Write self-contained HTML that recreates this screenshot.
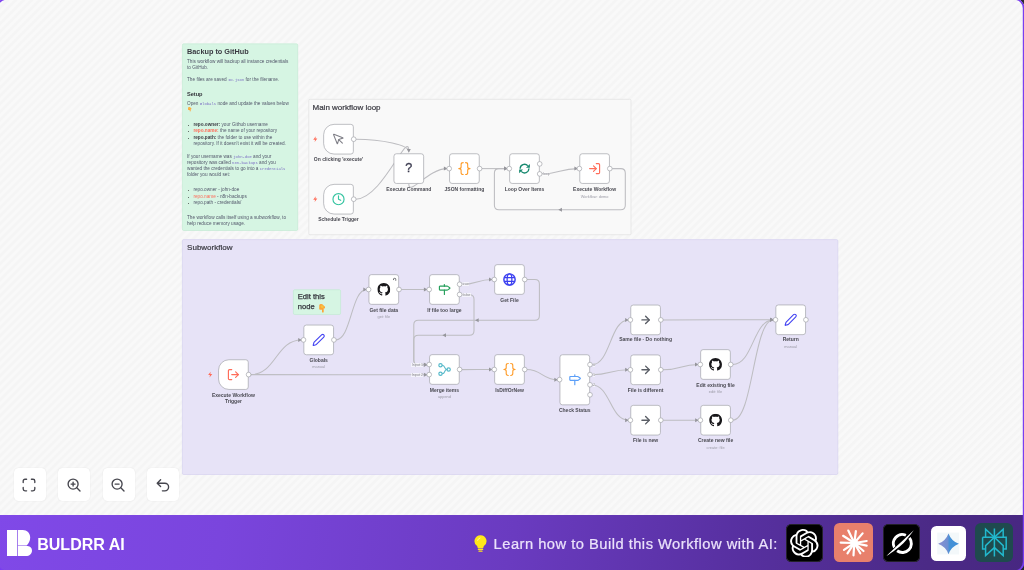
<!DOCTYPE html>
<html lang="en"><head><meta charset="utf-8"><title>Backup to GitHub - BULDRR AI</title>
<style>
*{box-sizing:border-box}
html,body{margin:0;padding:0}
body{width:1024px;height:570px;overflow:hidden;background:#2a2a2e;font-family:"Liberation Sans",sans-serif;position:relative}
.frame{position:absolute;left:0;top:0;width:1024px;height:570px;overflow:hidden;background:#f7f7f7}
.canvas{position:absolute;left:-4.1px;top:0;width:1034px;height:516px;
 background:repeating-linear-gradient(-45deg,#f5f5f5 0,#f5f5f5 1.9px,#f9f9f9 2.9px,#f9f9f9 4.7px,#f5f5f5 5.66px)}
.abs{position:absolute;left:0;top:0;width:1024px;height:570px;filter:blur(.35px)}
.fr{position:absolute;left:0;top:0;pointer-events:none}
.h3{position:absolute;font-size:8px;color:#3c3c44;-webkit-text-stroke:.22px #3c3c44;white-space:nowrap;line-height:9px}
.h3e{position:absolute;font-size:7.6px;color:#34343c;-webkit-text-stroke:.25px #34343c;white-space:nowrap;line-height:10.6px}
.md{position:absolute;left:0;top:0;font-size:4.7px;line-height:6px;color:#52566a}
.md .b{position:absolute;white-space:nowrap}
.md .h2{font-size:7.3px;line-height:9px;color:#3a3a42;font-weight:bold}
.md .h3s{font-size:5.6px;line-height:7px;color:#33333a;font-weight:bold}
.md .dot{width:1.3px;height:1.3px;border-radius:50%;background:#444}
.md b{color:#3c3c44}
.md code{font-family:"Liberation Mono",monospace;font-size:3.9px;line-height:1px;color:#7c6ec4}
.md .lk{color:#ff6d5a}
.txic{position:absolute;width:20px;text-align:center;font-size:13.5px;line-height:14px;font-weight:normal}
.nx{position:absolute;width:0;height:0}
.txic.q{color:#3b3b4f;font-size:12.6px;font-weight:normal;-webkit-text-stroke:.3px #3b3b4f}
.lab{position:absolute;text-align:center;font-size:5px;line-height:6px;color:#4a4a52;font-weight:bold}
.lab.sub{font-weight:normal;font-size:3.9px;line-height:5px;color:#9b9ba6}
.pl{position:absolute;font-size:3.7px;line-height:4px;color:#8b8b93;white-space:nowrap;background:rgba(255,255,255,.6);font-style:normal;padding:0 .3px}
.edges{position:absolute;left:0;top:0}
.edges .e path{fill:none;stroke:#bdbdc1;stroke-width:1.05}
.edges .a path{fill:#96969c;stroke:none}
.zb{position:absolute;top:468px;width:32px;height:33px;background:#fff;box-shadow:0 0 1.2px rgba(0,0,0,.13);border-radius:4.5px}
.zb svg{position:absolute;left:7.4px;top:9.2px;fill:none;stroke:#46464e;stroke-width:1.35;stroke-linecap:round;stroke-linejoin:round}
.bar{position:absolute;left:-6px;top:514.6px;width:1036px;height:62px;background:linear-gradient(100deg,#8049e8 0%,#7a45dd 22%,#6a3bc0 50%,#5730a0 72%,#4b2a86 90%,#472781 100%)}
.logo{position:absolute;left:13px;top:15.4px}
.brand{position:absolute;left:43.2px;top:20.2px;font-size:16.05px;line-height:18px;font-weight:bold;color:#fff;white-space:nowrap}
.bulb{position:absolute;left:480.2px;top:20.2px}
.learn{position:absolute;left:499.6px;top:20.5px;font-size:14.7px;line-height:18px;color:#ebe2fb;white-space:nowrap;letter-spacing:.49px;-webkit-text-stroke:.22px #ebe2fb}
.ai{position:absolute;border-radius:5.5px;overflow:hidden;margin-top:-514.6px;margin-left:6px}
.ai svg{position:absolute}
</style></head>
<body>
<div class="frame">
<div class="canvas"></div>
<div class="abs">
<svg class="edges" width="1024" height="570" viewBox="0 0 1024 570"><rect x="182.40" y="43.80" width="115.30" height="186.70" rx="1.3" fill="#d6f5e3" stroke="#bfe9d0" stroke-width=".6"/><rect x="308.80" y="99.30" width="322.20" height="135.40" rx="1.3" fill="#f9f9f9" stroke="#dcdcdc" stroke-width=".6"/><rect x="182.40" y="239.60" width="655.40" height="234.90" rx="1.3" fill="#e7e3f7" stroke="#d2ccee" stroke-width=".6"/><rect x="293.40" y="289.70" width="47.20" height="24.80" rx="1.3" fill="#d6f5e3" stroke="#bfe9d0" stroke-width=".6"/></svg>
<div class="md"><div class="b h2" style="left:187.00px;top:47.30px;">Backup to GitHub</div>
<div class="b t" style="left:187.00px;top:59.37px;">This workflow will backup all instance credentials</div>
<div class="b t" style="left:187.00px;top:65.37px;">to GitHub.</div>
<div class="b t" style="left:187.00px;top:77.37px;">The files are saved <code>ID.json</code> for the filename.</div>
<div class="b h3s" style="left:187.00px;top:90.70px;">Setup</div>
<div class="b t" style="left:187.00px;top:101.37px;">Open <code>Globals</code> node and update the values below</div>
<svg style="position:absolute;left:187.90px;top:107.00px" viewBox="0 0 7 9" width="3.7" height="4.6" preserveAspectRatio="none"><path d="M0.3 1.4 Q0.5 0.2 2 0.1 Q3.6 0 4.6 1.2 L6.5 3.1 Q7 3.9 6.2 4.4 Q5.6 4.7 5 4.4 V8 Q5 8.9 4.1 8.9 Q3.2 8.9 3.2 8 V6 L0.9 5.9 Q0.2 5.8 0.2 5 Z" fill="#ffa436"/><ellipse cx="3.3" cy="2.7" rx="1.7" ry="1.3" transform="rotate(35 3.3 2.7)" fill="#f3c540"/></svg>
<div class="b t" style="left:193.40px;top:122.37px;"><b>repo.owner:</b> your Github username</div><div class="b dot" style="left:188.10px;top:124.80px;"></div>
<div class="b t" style="left:193.40px;top:128.37px;"><b class="lk">repo.name:</b> the name of your repository</div><div class="b dot" style="left:188.10px;top:130.80px;"></div>
<div class="b t" style="left:193.40px;top:135.37px;"><b>repo.path:</b> the folder to use within the</div><div class="b dot" style="left:188.10px;top:137.80px;"></div>
<div class="b t" style="left:193.40px;top:141.37px;">repository. If it doesn't exist it will be created.</div>
<div class="b t" style="left:187.00px;top:154.37px;">If your username was <code>john-doe</code> and your</div>
<div class="b t" style="left:187.00px;top:160.37px;">repository was called <code>n8n-backups</code> and you</div>
<div class="b t" style="left:187.00px;top:166.37px;">wanted the credentials to go into a <code>credentials</code></div>
<div class="b t" style="left:187.00px;top:172.37px;">folder you would set:</div>
<div class="b t" style="left:193.40px;top:187.37px;">repo.owner - john-doe</div><div class="b dot" style="left:188.10px;top:189.80px;"></div>
<div class="b t" style="left:193.40px;top:194.37px;"><span class="lk">repo.name</span> - n8n-backups</div><div class="b dot" style="left:188.10px;top:196.80px;"></div>
<div class="b t" style="left:193.40px;top:200.37px;">repo.path - credentials/</div><div class="b dot" style="left:188.10px;top:202.80px;"></div>
<div class="b t" style="left:187.00px;top:215.37px;">The workflow calls itself using a subworkflow, to</div>
<div class="b t" style="left:187.00px;top:221.37px;">help reduce memory usage.</div></div>
<div class="h3" style="left:312.5px;top:102.6px">Main workflow loop</div>
<div class="h3" style="left:187.1px;top:243px">Subworkflow</div>
<div class="h3e" style="left:297.8px;top:292.17px">Edit this</div><div class="h3e" style="left:297.8px;top:302.15px">node</div><svg style="position:absolute;left:318.80px;top:304.00px" viewBox="0 0 7 9" width="6.6" height="8.7" preserveAspectRatio="none"><path d="M0.3 1.4 Q0.5 0.2 2 0.1 Q3.6 0 4.6 1.2 L6.5 3.1 Q7 3.9 6.2 4.4 Q5.6 4.7 5 4.4 V8 Q5 8.9 4.1 8.9 Q3.2 8.9 3.2 8 V6 L0.9 5.9 Q0.2 5.8 0.2 5 Z" fill="#ffa436"/><ellipse cx="3.3" cy="2.7" rx="1.7" ry="1.3" transform="rotate(35 3.3 2.7)" fill="#f3c540"/></svg>
<svg class="edges" width="1024" height="570" viewBox="0 0 1024 570"><g class="e">
<path d="M355.90 139.20 C382.35 139.20 408.80 145.25 408.80 151.30"/>
<path d="M355.70 199.20 C382.25 199.20 408.80 127.61 408.80 151.30"/>
<path d="M408.80 183.80 C408.80 197.15 428.00 168.60 447.20 168.60"/>
<path d="M481.60 168.60 C494.45 168.60 494.45 168.60 507.30 168.60"/>
<path d="M541.70 173.80 C559.70 173.80 559.70 168.60 577.70 168.60"/>
<path d="M612.10 168.60 H620.80 Q625.30 168.60 625.30 173.10 V205.20 Q625.30 209.70 620.80 209.70 H498.90 Q494.40 209.70 494.40 205.20 V173.10 Q494.40 168.60 498.90 168.60 H507.30"/>
<path d="M250.60 374.60 C276.05 374.60 276.05 339.90 301.50 339.90"/>
<path d="M250.60 374.60 C338.90 374.60 338.90 374.80 427.20 374.80"/>
<path d="M335.90 339.90 C351.25 339.90 351.25 289.50 366.60 289.50"/>
<path d="M401.00 289.50 C414.10 289.50 414.10 289.50 427.20 289.50"/>
<path d="M461.60 284.50 C476.95 284.50 476.95 279.50 492.30 279.50"/>
<path d="M461.60 369.60 C476.95 369.60 476.95 369.50 492.30 369.50"/>
<path d="M526.70 369.50 C542.15 369.50 542.15 379.80 557.60 379.80"/>
<path d="M592.00 364.80 C610.20 364.80 610.20 319.90 628.40 319.90"/>
<path d="M592.00 374.80 C610.20 374.80 610.20 369.80 628.40 369.80"/>
<path d="M592.00 385.00 C610.20 385.00 610.20 420.20 628.40 420.20"/>
<path d="M662.80 319.90 C718.15 319.90 718.15 319.80 773.50 319.80"/>
<path d="M662.80 369.80 C680.55 369.80 680.55 364.50 698.30 364.50"/>
<path d="M662.80 420.20 C680.60 420.20 680.60 420.20 698.40 420.20"/>
<path d="M732.70 364.50 C753.10 364.50 753.10 319.80 773.50 319.80"/>
<path d="M732.80 420.20 C753.15 420.20 753.15 319.80 773.50 319.80"/>
<path d="M526.70 279.50 H534.90 Q539.40 279.50 539.40 284.00 V315.80 Q539.40 320.30 534.90 320.30 H418.30 Q413.80 320.30 413.80 324.80 V360.20 Q413.80 364.70 418.30 364.70 H427.20"/>
<path d="M461.60 294.70 H469.50 Q474.00 294.70 474.00 299.20 V330.80 Q474.00 335.30 469.50 335.30 H418.30 Q413.80 335.30 413.80 339.80 V360.20 Q413.80 364.70 418.30 364.70 H427.20"/>
</g><g class="a">
<path d="M0 0 L-3.6 -2 L-3.6 2 Z" transform="translate(408.80 152.70) rotate(90)"/>
<path d="M0 0 L-3.6 -2 L-3.6 2 Z" transform="translate(447.50 168.60) rotate(0)"/>
<path d="M0 0 L-3.6 -2 L-3.6 2 Z" transform="translate(507.60 168.60) rotate(0)"/>
<path d="M0 0 L-3.6 -2 L-3.6 2 Z" transform="translate(578.00 168.60) rotate(0)"/>
<path d="M0 0 L-3.6 -2 L-3.6 2 Z" transform="translate(558.35 209.70) rotate(180)"/>
<path d="M0 0 L-3.6 -2 L-3.6 2 Z" transform="translate(507.60 168.60) rotate(0)"/>
<path d="M0 0 L-3.6 -2 L-3.6 2 Z" transform="translate(301.80 339.90) rotate(0)"/>
<path d="M0 0 L-3.6 -2 L-3.6 2 Z" transform="translate(427.50 374.80) rotate(0)"/>
<path d="M0 0 L-3.6 -2 L-3.6 2 Z" transform="translate(366.90 289.50) rotate(0)"/>
<path d="M0 0 L-3.6 -2 L-3.6 2 Z" transform="translate(427.50 289.50) rotate(0)"/>
<path d="M0 0 L-3.6 -2 L-3.6 2 Z" transform="translate(492.60 279.50) rotate(0)"/>
<path d="M0 0 L-3.6 -2 L-3.6 2 Z" transform="translate(492.60 369.50) rotate(0)"/>
<path d="M0 0 L-3.6 -2 L-3.6 2 Z" transform="translate(557.90 379.80) rotate(0)"/>
<path d="M0 0 L-3.6 -2 L-3.6 2 Z" transform="translate(628.70 319.90) rotate(0)"/>
<path d="M0 0 L-3.6 -2 L-3.6 2 Z" transform="translate(628.70 369.80) rotate(0)"/>
<path d="M0 0 L-3.6 -2 L-3.6 2 Z" transform="translate(628.70 420.20) rotate(0)"/>
<path d="M0 0 L-3.6 -2 L-3.6 2 Z" transform="translate(773.80 319.80) rotate(0)"/>
<path d="M0 0 L-3.6 -2 L-3.6 2 Z" transform="translate(698.60 364.50) rotate(0)"/>
<path d="M0 0 L-3.6 -2 L-3.6 2 Z" transform="translate(698.70 420.20) rotate(0)"/>
<path d="M0 0 L-3.6 -2 L-3.6 2 Z" transform="translate(773.80 319.80) rotate(0)"/>
<path d="M0 0 L-3.6 -2 L-3.6 2 Z" transform="translate(773.80 319.80) rotate(0)"/>
<path d="M0 0 L-3.6 -2 L-3.6 2 Z" transform="translate(475.10 320.30) rotate(180)"/>
<path d="M0 0 L-3.6 -2 L-3.6 2 Z" transform="translate(427.50 364.70) rotate(0)"/>
<path d="M0 0 L-3.6 -2 L-3.6 2 Z" transform="translate(442.40 335.30) rotate(180)"/>
<path d="M0 0 L-3.6 -2 L-3.6 2 Z" transform="translate(427.50 364.70) rotate(0)"/>
</g>
<path d="M334.05 124.35 H350.85 A2.5 2.5 0 0 1 353.35 126.85 V151.55 A2.5 2.5 0 0 1 350.85 154.05 H334.05 A10.4 10.4 0 0 1 323.65 143.65 V134.75 A10.4 10.4 0 0 1 334.05 124.35 Z" fill="#fff" stroke="#a3a5ab" stroke-width=".7"/>
<svg x="331.85" y="132.55" width="13.3" height="13.3" viewBox="0 0 24 24"><g fill="none" stroke="#7d7d85" stroke-width="1.9" stroke-linecap="round" stroke-linejoin="round"><path d="M12.586 12.586 19 19"/><path d="M3.688 3.037a.497.497 0 0 0-.651.651l6.5 15.999a.501.501 0 0 0 .947-.062l1.569-6.083a2 2 0 0 1 1.448-1.479l6.124-1.579a.5.5 0 0 0 .063-.947z"/></g></svg>
<path transform="translate(313.00 136.30) scale(.46 .483)" d="M6 0 L0.5 7 H4.5 L3.5 12 L9.5 4.8 H5.3 Z" fill="#ff6d5a"/>
<circle cx="353.70" cy="139.20" r="2.35" fill="#fff" stroke="#a3a5ab" stroke-width=".7"/>
<path d="M334.05 184.35 H350.85 A2.5 2.5 0 0 1 353.35 186.85 V211.55 A2.5 2.5 0 0 1 350.85 214.05 H334.05 A10.4 10.4 0 0 1 323.65 203.65 V194.75 A10.4 10.4 0 0 1 334.05 184.35 Z" fill="#fff" stroke="#a3a5ab" stroke-width=".7"/>
<svg x="331.85" y="192.55" width="13.3" height="13.3" viewBox="0 0 24 24"><g fill="none" stroke="#35c4a1" stroke-width="2.1" stroke-linecap="round" stroke-linejoin="round"><circle cx="12" cy="12" r="10"/><path d="M12 6v6l4 2"/></g></svg>
<path transform="translate(313.00 196.30) scale(.46 .483)" d="M6 0 L0.5 7 H4.5 L3.5 12 L9.5 4.8 H5.3 Z" fill="#ff6d5a"/>
<circle cx="353.70" cy="199.20" r="2.35" fill="#fff" stroke="#a3a5ab" stroke-width=".7"/>
<path d="M396.45 153.75 H421.15 A2.5 2.5 0 0 1 423.65 156.25 V180.95 A2.5 2.5 0 0 1 421.15 183.45 H396.45 A2.5 2.5 0 0 1 393.95 180.95 V156.25 A2.5 2.5 0 0 1 396.45 153.75 Z" fill="#fff" stroke="#a3a5ab" stroke-width=".7"/>
<path d="M452.05 153.75 H476.75 A2.5 2.5 0 0 1 479.25 156.25 V180.95 A2.5 2.5 0 0 1 476.75 183.45 H452.05 A2.5 2.5 0 0 1 449.55 180.95 V156.25 A2.5 2.5 0 0 1 452.05 153.75 Z" fill="#fff" stroke="#a3a5ab" stroke-width=".7"/>
<svg x="457.80" y="161.90" width="13.2" height="13.4" viewBox="0 0 24 24"><g fill="none" stroke="#ff9b26" stroke-width="2" stroke-linecap="round" stroke-linejoin="round"><path d="M9.8 1.2 C7 1.2 6 2.2 6 4.6 V9 C6 11 4.6 12 1.8 12 C4.6 12 6 13 6 15 V19.4 C6 21.8 7 22.8 9.8 22.8"/><path d="M14.2 1.2 C17 1.2 18 2.2 18 4.6 V9 C18 11 19.4 12 22.2 12 C19.4 12 18 13 18 15 V19.4 C18 21.8 17 22.8 14.2 22.8"/></g></svg>
<circle cx="449.20" cy="168.60" r="2.35" fill="#fff" stroke="#a3a5ab" stroke-width=".7"/>
<circle cx="479.60" cy="168.60" r="2.35" fill="#fff" stroke="#a3a5ab" stroke-width=".7"/>
<path d="M512.15 153.75 H536.85 A2.5 2.5 0 0 1 539.35 156.25 V180.95 A2.5 2.5 0 0 1 536.85 183.45 H512.15 A2.5 2.5 0 0 1 509.65 180.95 V156.25 A2.5 2.5 0 0 1 512.15 153.75 Z" fill="#fff" stroke="#a3a5ab" stroke-width=".7"/>
<svg x="518.20" y="162.30" width="12.6" height="12.6" viewBox="0 0 24 24"><g fill="none" stroke="#17896f" stroke-width="2.5" stroke-linecap="butt"><path d="M3.7 12.4 A8.3 8.3 0 0 1 18.2 6.6"/><path d="M20.3 11.6 A8.3 8.3 0 0 1 5.8 17.4"/></g><path d="M22.2 3 V10.4 H14.8 Z" fill="#17896f"/><path d="M1.8 21 V13.6 H9.2 Z" fill="#17896f"/></svg>
<circle cx="509.30" cy="168.60" r="2.35" fill="#fff" stroke="#a3a5ab" stroke-width=".7"/>
<circle cx="539.70" cy="163.90" r="2.35" fill="#fff" stroke="#a3a5ab" stroke-width=".7"/>
<circle cx="539.70" cy="173.90" r="2.35" fill="#fff" stroke="#a3a5ab" stroke-width=".7"/>
<path d="M582.25 153.75 H606.95 A2.5 2.5 0 0 1 609.45 156.25 V180.95 A2.5 2.5 0 0 1 606.95 183.45 H582.25 A2.5 2.5 0 0 1 579.75 180.95 V156.25 A2.5 2.5 0 0 1 582.25 153.75 Z" fill="#fff" stroke="#a3a5ab" stroke-width=".7"/>
<svg x="587.95" y="161.95" width="13.3" height="13.3" viewBox="0 0 24 24"><g fill="none" stroke="#ff6d5a" stroke-width="2.1" stroke-linecap="round" stroke-linejoin="round"><path d="M15 3h4a2 2 0 0 1 2 2v14a2 2 0 0 1-2 2h-4"/><path d="M10 17l5-5-5-5"/><path d="M15 12H3"/></g></svg>
<circle cx="579.40" cy="168.60" r="2.35" fill="#fff" stroke="#a3a5ab" stroke-width=".7"/>
<circle cx="609.80" cy="168.60" r="2.35" fill="#fff" stroke="#a3a5ab" stroke-width=".7"/>
<path d="M228.95 359.75 H245.75 A2.5 2.5 0 0 1 248.25 362.25 V386.95 A2.5 2.5 0 0 1 245.75 389.45 H228.95 A10.4 10.4 0 0 1 218.55 379.05 V370.15 A10.4 10.4 0 0 1 228.95 359.75 Z" fill="#fff" stroke="#a3a5ab" stroke-width=".7"/>
<svg x="226.75" y="367.95" width="13.3" height="13.3" viewBox="0 0 24 24"><g fill="none" stroke="#ff6d5a" stroke-width="2.1" stroke-linecap="round" stroke-linejoin="round"><path d="M9 21H5a2 2 0 0 1-2-2V5a2 2 0 0 1 2-2h4"/><path d="M16 17l5-5-5-5"/><path d="M21 12H9"/></g></svg>
<path transform="translate(207.90 371.70) scale(.46 .483)" d="M6 0 L0.5 7 H4.5 L3.5 12 L9.5 4.8 H5.3 Z" fill="#ff6d5a"/>
<circle cx="248.60" cy="374.60" r="2.35" fill="#fff" stroke="#a3a5ab" stroke-width=".7"/>
<path d="M306.35 325.05 H331.05 A2.5 2.5 0 0 1 333.55 327.55 V352.25 A2.5 2.5 0 0 1 331.05 354.75 H306.35 A2.5 2.5 0 0 1 303.85 352.25 V327.55 A2.5 2.5 0 0 1 306.35 325.05 Z" fill="#fff" stroke="#a3a5ab" stroke-width=".7"/>
<svg x="312.05" y="333.25" width="13.3" height="13.3" viewBox="0 0 24 24"><path d="M21.174 6.812a1 1 0 0 0-3.986-3.987L3.842 16.174a2 2 0 0 0-.5.83l-1.321 4.352a.5.5 0 0 0 .623.622l4.353-1.32a2 2 0 0 0 .83-.497z" fill="none" stroke="#4343f2" stroke-width="2" stroke-linecap="round" stroke-linejoin="round"/></svg>
<circle cx="303.50" cy="339.90" r="2.35" fill="#fff" stroke="#a3a5ab" stroke-width=".7"/>
<circle cx="333.90" cy="339.90" r="2.35" fill="#fff" stroke="#a3a5ab" stroke-width=".7"/>
<path d="M371.45 274.65 H396.15 A2.5 2.5 0 0 1 398.65 277.15 V301.85 A2.5 2.5 0 0 1 396.15 304.35 H371.45 A2.5 2.5 0 0 1 368.95 301.85 V277.15 A2.5 2.5 0 0 1 371.45 274.65 Z" fill="#fff" stroke="#a3a5ab" stroke-width=".7"/>
<svg x="377.35" y="283.05" width="12.9" height="12.9" viewBox="0 0 16 16"><path d="M8 0C3.58 0 0 3.58 0 8c0 3.54 2.29 6.53 5.47 7.59.4.07.55-.17.55-.38 0-.19-.01-.82-.01-1.49-2.01.37-2.53-.49-2.69-.94-.09-.23-.48-.94-.82-1.13-.28-.15-.68-.52-.01-.53.63-.01 1.08.58 1.23.82.72 1.21 1.87.87 2.33.66.07-.52.28-.87.51-1.07-1.78-.2-3.64-.89-3.64-3.95 0-.87.31-1.59.82-2.15-.08-.2-.36-1.02.08-2.12 0 0 .67-.21 2.2.82.64-.18 1.32-.27 2-.27.68 0 1.36.09 2 .27 1.53-1.04 2.2-.82 2.2-.82.44 1.1.16 1.92.08 2.12.51.56.82 1.27.82 2.15 0 3.07-1.87 3.75-3.65 3.95.29.25.54.73.54 1.48 0 1.07-.01 1.93-.01 2.2 0 .21.15.46.55.38A8.013 8.013 0 0016 8c0-4.42-3.58-8-8-8z" fill="#18171a"/></svg>
<g transform="translate(368.60 274.30)"><g transform="translate(24.2 3.4) scale(.36)"><path d="M2 5.2 V4 A2.2 2.2 0 0 1 4.2 1.8 H6 A2.2 2.2 0 0 1 8.2 4 V8.6" fill="none" stroke="#3a3a3f" stroke-width="1.9"/><path d="M0.4 4.6 L2 7 L3.6 4.6 Z" fill="#3a3a3f"/></g></g>
<circle cx="368.60" cy="289.50" r="2.35" fill="#fff" stroke="#a3a5ab" stroke-width=".7"/>
<circle cx="399.00" cy="289.50" r="2.35" fill="#fff" stroke="#a3a5ab" stroke-width=".7"/>
<path d="M432.05 274.65 H456.75 A2.5 2.5 0 0 1 459.25 277.15 V301.85 A2.5 2.5 0 0 1 456.75 304.35 H432.05 A2.5 2.5 0 0 1 429.55 301.85 V277.15 A2.5 2.5 0 0 1 432.05 274.65 Z" fill="#fff" stroke="#a3a5ab" stroke-width=".7"/>
<svg x="437.75" y="282.85" width="13.3" height="13.3" viewBox="0 0 24 24"><g fill="none" stroke="#27a05c" stroke-width="2.1" stroke-linecap="round" stroke-linejoin="round"><path d="M12 13v8"/><path d="M12 3v3"/><path d="M4 6a1 1 0 0 0-1 1v5a1 1 0 0 0 1 1h13a2 2 0 0 0 1.152-.365l3.424-2.317a1 1 0 0 0 0-1.635l-3.424-2.318A2 2 0 0 0 17 6z"/></g></svg>
<circle cx="429.20" cy="289.50" r="2.35" fill="#fff" stroke="#a3a5ab" stroke-width=".7"/>
<circle cx="459.60" cy="284.30" r="2.35" fill="#fff" stroke="#a3a5ab" stroke-width=".7"/>
<circle cx="459.60" cy="294.50" r="2.35" fill="#fff" stroke="#a3a5ab" stroke-width=".7"/>
<path d="M497.15 264.65 H521.85 A2.5 2.5 0 0 1 524.35 267.15 V291.85 A2.5 2.5 0 0 1 521.85 294.35 H497.15 A2.5 2.5 0 0 1 494.65 291.85 V267.15 A2.5 2.5 0 0 1 497.15 264.65 Z" fill="#fff" stroke="#a3a5ab" stroke-width=".7"/>
<svg x="503.00" y="273.00" width="13" height="13" viewBox="0 0 24 24"><g fill="none" stroke="#3b3ff0"><circle cx="12" cy="12" r="10.4" stroke-width="2.7"/><ellipse cx="12" cy="12" rx="4.4" ry="10.4" stroke-width="2.3"/><path d="M2.6 8.4 H21.4 M2.6 15.6 H21.4" stroke-width="2.3"/></g></svg>
<circle cx="494.30" cy="279.50" r="2.35" fill="#fff" stroke="#a3a5ab" stroke-width=".7"/>
<circle cx="524.70" cy="279.50" r="2.35" fill="#fff" stroke="#a3a5ab" stroke-width=".7"/>
<path d="M432.05 354.65 H456.75 A2.5 2.5 0 0 1 459.25 357.15 V381.85 A2.5 2.5 0 0 1 456.75 384.35 H432.05 A2.5 2.5 0 0 1 429.55 381.85 V357.15 A2.5 2.5 0 0 1 432.05 354.65 Z" fill="#fff" stroke="#a3a5ab" stroke-width=".7"/>
<svg x="437.70" y="362.80" width="13.4" height="13.4" viewBox="0 0 24 24"><g fill="none" stroke="#54b8c9" stroke-width="2" stroke-linecap="round"><circle cx="5" cy="4.4" r="3"/><circle cx="5" cy="19.6" r="3"/><circle cx="19.6" cy="12" r="3"/><path d="M8 4.4 C14.5 4.4 10.5 12 16.6 12"/><path d="M8 19.6 C14.5 19.6 10.5 12 16.6 12"/></g></svg>
<circle cx="429.20" cy="364.50" r="2.35" fill="#fff" stroke="#a3a5ab" stroke-width=".7"/>
<circle cx="429.20" cy="374.60" r="2.35" fill="#fff" stroke="#a3a5ab" stroke-width=".7"/>
<circle cx="459.60" cy="369.50" r="2.35" fill="#fff" stroke="#a3a5ab" stroke-width=".7"/>
<path d="M497.15 354.65 H521.85 A2.5 2.5 0 0 1 524.35 357.15 V381.85 A2.5 2.5 0 0 1 521.85 384.35 H497.15 A2.5 2.5 0 0 1 494.65 381.85 V357.15 A2.5 2.5 0 0 1 497.15 354.65 Z" fill="#fff" stroke="#a3a5ab" stroke-width=".7"/>
<svg x="502.90" y="362.80" width="13.2" height="13.4" viewBox="0 0 24 24"><g fill="none" stroke="#ff9b26" stroke-width="2" stroke-linecap="round" stroke-linejoin="round"><path d="M9.8 1.2 C7 1.2 6 2.2 6 4.6 V9 C6 11 4.6 12 1.8 12 C4.6 12 6 13 6 15 V19.4 C6 21.8 7 22.8 9.8 22.8"/><path d="M14.2 1.2 C17 1.2 18 2.2 18 4.6 V9 C18 11 19.4 12 22.2 12 C19.4 12 18 13 18 15 V19.4 C18 21.8 17 22.8 14.2 22.8"/></g></svg>
<circle cx="494.30" cy="369.50" r="2.35" fill="#fff" stroke="#a3a5ab" stroke-width=".7"/>
<circle cx="524.70" cy="369.50" r="2.35" fill="#fff" stroke="#a3a5ab" stroke-width=".7"/>
<path d="M562.45 354.75 H587.15 A2.5 2.5 0 0 1 589.65 357.25 V402.35 A2.5 2.5 0 0 1 587.15 404.85 H562.45 A2.5 2.5 0 0 1 559.95 402.35 V357.25 A2.5 2.5 0 0 1 562.45 354.75 Z" fill="#fff" stroke="#a3a5ab" stroke-width=".7"/>
<svg x="568.15" y="373.15" width="13.3" height="13.3" viewBox="0 0 24 24"><g fill="none" stroke="#5b9ff8" stroke-width="2.1" stroke-linecap="round" stroke-linejoin="round"><path d="M12 13v8"/><path d="M12 3v3"/><path d="M4 6a1 1 0 0 0-1 1v5a1 1 0 0 0 1 1h13a2 2 0 0 0 1.152-.365l3.424-2.317a1 1 0 0 0 0-1.635l-3.424-2.318A2 2 0 0 0 17 6z"/></g></svg>
<circle cx="559.60" cy="379.60" r="2.35" fill="#fff" stroke="#a3a5ab" stroke-width=".7"/>
<circle cx="590.00" cy="364.60" r="2.35" fill="#fff" stroke="#a3a5ab" stroke-width=".7"/>
<circle cx="590.00" cy="374.60" r="2.35" fill="#fff" stroke="#a3a5ab" stroke-width=".7"/>
<circle cx="590.00" cy="384.80" r="2.35" fill="#fff" stroke="#a3a5ab" stroke-width=".7"/>
<circle cx="590.00" cy="394.80" r="2.35" fill="#fff" stroke="#a3a5ab" stroke-width=".7"/>
<path d="M633.25 305.05 H657.95 A2.5 2.5 0 0 1 660.45 307.55 V332.25 A2.5 2.5 0 0 1 657.95 334.75 H633.25 A2.5 2.5 0 0 1 630.75 332.25 V307.55 A2.5 2.5 0 0 1 633.25 305.05 Z" fill="#fff" stroke="#a3a5ab" stroke-width=".7"/>
<svg x="639.30" y="313.60" width="12.6" height="12.6" viewBox="0 0 24 24"><g fill="none" stroke="#5a5e66" stroke-width="2.6" stroke-linecap="round" stroke-linejoin="round"><path d="M5 12h13.6"/><path d="M12 5l7 7-7 7"/></g></svg>
<circle cx="630.40" cy="319.90" r="2.35" fill="#fff" stroke="#a3a5ab" stroke-width=".7"/>
<circle cx="660.80" cy="319.90" r="2.35" fill="#fff" stroke="#a3a5ab" stroke-width=".7"/>
<path d="M633.25 354.95 H657.95 A2.5 2.5 0 0 1 660.45 357.45 V382.15 A2.5 2.5 0 0 1 657.95 384.65 H633.25 A2.5 2.5 0 0 1 630.75 382.15 V357.45 A2.5 2.5 0 0 1 633.25 354.95 Z" fill="#fff" stroke="#a3a5ab" stroke-width=".7"/>
<svg x="639.30" y="363.50" width="12.6" height="12.6" viewBox="0 0 24 24"><g fill="none" stroke="#5a5e66" stroke-width="2.6" stroke-linecap="round" stroke-linejoin="round"><path d="M5 12h13.6"/><path d="M12 5l7 7-7 7"/></g></svg>
<circle cx="630.40" cy="369.80" r="2.35" fill="#fff" stroke="#a3a5ab" stroke-width=".7"/>
<circle cx="660.80" cy="369.80" r="2.35" fill="#fff" stroke="#a3a5ab" stroke-width=".7"/>
<path d="M633.25 405.35 H657.95 A2.5 2.5 0 0 1 660.45 407.85 V432.55 A2.5 2.5 0 0 1 657.95 435.05 H633.25 A2.5 2.5 0 0 1 630.75 432.55 V407.85 A2.5 2.5 0 0 1 633.25 405.35 Z" fill="#fff" stroke="#a3a5ab" stroke-width=".7"/>
<svg x="639.30" y="413.90" width="12.6" height="12.6" viewBox="0 0 24 24"><g fill="none" stroke="#5a5e66" stroke-width="2.6" stroke-linecap="round" stroke-linejoin="round"><path d="M5 12h13.6"/><path d="M12 5l7 7-7 7"/></g></svg>
<circle cx="630.40" cy="420.20" r="2.35" fill="#fff" stroke="#a3a5ab" stroke-width=".7"/>
<circle cx="660.80" cy="420.20" r="2.35" fill="#fff" stroke="#a3a5ab" stroke-width=".7"/>
<path d="M703.15 349.65 H727.85 A2.5 2.5 0 0 1 730.35 352.15 V376.85 A2.5 2.5 0 0 1 727.85 379.35 H703.15 A2.5 2.5 0 0 1 700.65 376.85 V352.15 A2.5 2.5 0 0 1 703.15 349.65 Z" fill="#fff" stroke="#a3a5ab" stroke-width=".7"/>
<svg x="709.05" y="358.05" width="12.9" height="12.9" viewBox="0 0 16 16"><path d="M8 0C3.58 0 0 3.58 0 8c0 3.54 2.29 6.53 5.47 7.59.4.07.55-.17.55-.38 0-.19-.01-.82-.01-1.49-2.01.37-2.53-.49-2.69-.94-.09-.23-.48-.94-.82-1.13-.28-.15-.68-.52-.01-.53.63-.01 1.08.58 1.23.82.72 1.21 1.87.87 2.33.66.07-.52.28-.87.51-1.07-1.78-.2-3.64-.89-3.64-3.95 0-.87.31-1.59.82-2.15-.08-.2-.36-1.02.08-2.12 0 0 .67-.21 2.2.82.64-.18 1.32-.27 2-.27.68 0 1.36.09 2 .27 1.53-1.04 2.2-.82 2.2-.82.44 1.1.16 1.92.08 2.12.51.56.82 1.27.82 2.15 0 3.07-1.87 3.75-3.65 3.95.29.25.54.73.54 1.48 0 1.07-.01 1.93-.01 2.2 0 .21.15.46.55.38A8.013 8.013 0 0016 8c0-4.42-3.58-8-8-8z" fill="#18171a"/></svg>
<circle cx="700.30" cy="364.50" r="2.35" fill="#fff" stroke="#a3a5ab" stroke-width=".7"/>
<circle cx="730.70" cy="364.50" r="2.35" fill="#fff" stroke="#a3a5ab" stroke-width=".7"/>
<path d="M703.25 405.35 H727.95 A2.5 2.5 0 0 1 730.45 407.85 V432.55 A2.5 2.5 0 0 1 727.95 435.05 H703.25 A2.5 2.5 0 0 1 700.75 432.55 V407.85 A2.5 2.5 0 0 1 703.25 405.35 Z" fill="#fff" stroke="#a3a5ab" stroke-width=".7"/>
<svg x="709.15" y="413.75" width="12.9" height="12.9" viewBox="0 0 16 16"><path d="M8 0C3.58 0 0 3.58 0 8c0 3.54 2.29 6.53 5.47 7.59.4.07.55-.17.55-.38 0-.19-.01-.82-.01-1.49-2.01.37-2.53-.49-2.69-.94-.09-.23-.48-.94-.82-1.13-.28-.15-.68-.52-.01-.53.63-.01 1.08.58 1.23.82.72 1.21 1.87.87 2.33.66.07-.52.28-.87.51-1.07-1.78-.2-3.64-.89-3.64-3.95 0-.87.31-1.59.82-2.15-.08-.2-.36-1.02.08-2.12 0 0 .67-.21 2.2.82.64-.18 1.32-.27 2-.27.68 0 1.36.09 2 .27 1.53-1.04 2.2-.82 2.2-.82.44 1.1.16 1.92.08 2.12.51.56.82 1.27.82 2.15 0 3.07-1.87 3.75-3.65 3.95.29.25.54.73.54 1.48 0 1.07-.01 1.93-.01 2.2 0 .21.15.46.55.38A8.013 8.013 0 0016 8c0-4.42-3.58-8-8-8z" fill="#18171a"/></svg>
<circle cx="700.40" cy="420.20" r="2.35" fill="#fff" stroke="#a3a5ab" stroke-width=".7"/>
<circle cx="730.80" cy="420.20" r="2.35" fill="#fff" stroke="#a3a5ab" stroke-width=".7"/>
<path d="M778.35 304.95 H803.05 A2.5 2.5 0 0 1 805.55 307.45 V332.15 A2.5 2.5 0 0 1 803.05 334.65 H778.35 A2.5 2.5 0 0 1 775.85 332.15 V307.45 A2.5 2.5 0 0 1 778.35 304.95 Z" fill="#fff" stroke="#a3a5ab" stroke-width=".7"/>
<svg x="784.05" y="313.15" width="13.3" height="13.3" viewBox="0 0 24 24"><path d="M21.174 6.812a1 1 0 0 0-3.986-3.987L3.842 16.174a2 2 0 0 0-.5.83l-1.321 4.352a.5.5 0 0 0 .623.622l4.353-1.32a2 2 0 0 0 .83-.497z" fill="none" stroke="#4343f2" stroke-width="2" stroke-linecap="round" stroke-linejoin="round"/></svg>
<circle cx="775.50" cy="319.80" r="2.35" fill="#fff" stroke="#a3a5ab" stroke-width=".7"/>
<circle cx="805.90" cy="319.80" r="2.35" fill="#fff" stroke="#a3a5ab" stroke-width=".7"/>
</svg>
<div class="lab nm" style="left:303.50px;top:156.27px;width:70px">On clicking 'execute'</div>
<div class="lab nm" style="left:303.50px;top:216.27px;width:70px">Schedule Trigger</div>
<div class="txic q" style="left:398.80px;top:161.20px">?</div>
<div class="lab nm" style="left:373.80px;top:186.27px;width:70px">Execute Command</div>
<div class="lab nm" style="left:429.40px;top:186.27px;width:70px">JSON formatting</div>
<div class="lab nm" style="left:489.50px;top:186.27px;width:70px">Loop Over Items</div>
<span class="pl" style="left:542.60px;top:171.70px">loop</span>
<div class="lab nm" style="left:559.60px;top:186.27px;width:70px">Execute Workflow</div>
<div class="lab sub" style="left:559.60px;top:194.15px;width:70px">Workflow: demo</div>
<div class="lab nm" style="left:198.40px;top:392.27px;width:70px">Execute Workflow<br>Trigger</div>
<div class="lab nm" style="left:283.70px;top:357.27px;width:70px">Globals</div>
<div class="lab sub" style="left:283.70px;top:364.15px;width:70px">manual</div>
<div class="lab nm" style="left:348.80px;top:307.27px;width:70px">Get file data</div>
<div class="lab sub" style="left:348.80px;top:314.15px;width:70px">get: file</div>
<div class="lab nm" style="left:409.40px;top:307.27px;width:70px">If file too large</div>
<span class="pl" style="left:462.30px;top:281.70px">true</span>
<span class="pl" style="left:462.30px;top:292.70px">false</span>
<div class="lab nm" style="left:474.50px;top:297.27px;width:70px">Get File</div>
<div class="lab nm" style="left:409.40px;top:387.27px;width:70px">Merge items</div>
<div class="lab sub" style="left:409.40px;top:394.15px;width:70px">append</div>
<span class="pl" style="right:600.70px;top:362.70px">Input 1</span>
<span class="pl" style="right:600.70px;top:372.70px">Input 2</span>
<div class="lab nm" style="left:474.50px;top:387.27px;width:70px">IsDiffOrNew</div>
<div class="lab nm" style="left:539.80px;top:407.27px;width:70px">Check Status</div>
<span class="pl" style="left:592.80px;top:362.70px">0</span>
<span class="pl" style="left:592.80px;top:372.70px">1</span>
<span class="pl" style="left:592.80px;top:382.70px">2</span>
<div class="lab nm" style="left:610.60px;top:336.27px;width:70px">Same file - Do nothing</div>
<div class="lab nm" style="left:610.60px;top:387.27px;width:70px">File is different</div>
<div class="lab nm" style="left:610.60px;top:437.27px;width:70px">File is new</div>
<div class="lab nm" style="left:680.50px;top:382.27px;width:70px">Edit existing file</div>
<div class="lab sub" style="left:680.50px;top:389.15px;width:70px">edit: file</div>
<div class="lab nm" style="left:680.60px;top:437.27px;width:70px">Create new file</div>
<div class="lab sub" style="left:680.60px;top:445.15px;width:70px">create: file</div>
<div class="lab nm" style="left:755.70px;top:336.27px;width:70px">Return</div>
<div class="lab sub" style="left:755.70px;top:344.15px;width:70px">manual</div>
<div class="zb" style="left:13.8px"><svg viewBox="0 0 16 16" width="16" height="16"><path d="M2.2 5.6 V4 A1.8 1.8 0 0 1 4 2.2 H5.6 M10.4 2.2 H12 A1.8 1.8 0 0 1 13.8 4 V5.6 M13.8 10.4 V12 A1.8 1.8 0 0 1 12 13.8 H10.4 M5.6 13.8 H4 A1.8 1.8 0 0 1 2.2 12 V10.4"/></svg></div>
<div class="zb" style="left:58.3px"><svg viewBox="0 0 16 16" width="16" height="16"><circle cx="7.1" cy="7.1" r="5"/><path d="M10.8 10.8 L14 14 M7.1 5.1 V9.1 M5.1 7.1 H9.1"/></svg></div>
<div class="zb" style="left:102.6px"><svg viewBox="0 0 16 16" width="16" height="16"><circle cx="7.1" cy="7.1" r="5"/><path d="M10.8 10.8 L14 14 M5.1 7.1 H9.1"/></svg></div>
<div class="zb" style="left:147.3px"><svg viewBox="0 0 16 16" width="16" height="16"><path d="M2.4 6.2 H9.8 A3.8 3.8 0 0 1 9.8 13.8 H7.4 M5.6 2.8 L2.2 6.2 L5.6 9.6"/></svg></div>
<div class="bar">
<svg class="logo" viewBox="0 0 25 26" width="25" height="26"><path d="M0 0 H10.2 V26 H0 Z M10.9 0 H15.8 C20 0 23.2 3.2 23.2 7.4 C23.2 10.8 21.6 13.4 19.6 15.4 H10.9 Z M10.9 16.1 H20.6 C23.4 16.6 25 18.2 25 20.4 C25 23.6 22.4 26 19 26 H10.9 Z" fill="#fff"/></svg>
<div class="brand">BULDRR AI</div>
<svg class="bulb" viewBox="0 0 13 17" width="13" height="17"><path d="M6.5 0.2 A5.9 5.9 0 0 0 2.6 10.6 C3.4 11.5 3.6 12 3.7 12.9 H9.3 C9.4 12 9.6 11.5 10.4 10.6 A5.9 5.9 0 0 0 6.5 0.2 Z" fill="#ffe81a"/><rect x="3.8" y="13.6" width="5.4" height="1.4" rx=".6" fill="#ffe81a"/><rect x="4.4" y="15.5" width="4.2" height="1.3" rx=".6" fill="#ffe81a"/><path d="M3.6 5.4 A3.2 3.2 0 0 1 6 3" stroke="#fff7a8" stroke-width=".9" fill="none" stroke-linecap="round"/></svg>
<div class="learn">Learn how to Build this Workflow with AI:</div>
<div class="ai" style="left:785.8px;top:523.8px;width:37.7px;height:37.8px;background:#000;box-shadow:inset 0 0 0 .8px #2e2a36"><svg viewBox="0 0 24 24" width="28.6" height="28.6" style="left:4.7px;top:4.9px"><path d="M22.2819 9.8211a5.9847 5.9847 0 0 0-.5157-4.9108 6.0462 6.0462 0 0 0-6.5098-2.9A6.0651 6.0651 0 0 0 4.9807 4.1818a5.9847 5.9847 0 0 0-3.9977 2.9 6.0462 6.0462 0 0 0 .7427 7.0966 5.98 5.98 0 0 0 .511 4.9107 6.051 6.051 0 0 0 6.5146 2.9001A5.9847 5.9847 0 0 0 13.2599 24a6.0557 6.0557 0 0 0 5.7718-4.2058 5.9894 5.9894 0 0 0 3.9977-2.9001 6.0557 6.0557 0 0 0-.7475-7.0729zm-9.022 12.6081a4.4755 4.4755 0 0 1-2.8764-1.0408l.1419-.0804 4.7783-2.7582a.7948.7948 0 0 0 .3927-.6813v-6.7369l2.02 1.1686a.071.071 0 0 1 .038.052v5.5826a4.504 4.504 0 0 1-4.4945 4.4944zm-9.6607-4.1254a4.4708 4.4708 0 0 1-.5346-3.0137l.142.0852 4.783 2.7582a.7712.7712 0 0 0 .7806 0l5.8428-3.3685v2.3324a.0804.0804 0 0 1-.0332.0615L9.74 19.9502a4.4992 4.4992 0 0 1-6.1408-1.6464zM2.3408 7.8956a4.485 4.485 0 0 1 2.3655-1.9728V11.6a.7664.7664 0 0 0 .3879.6765l5.8144 3.3543-2.0201 1.1685a.0757.0757 0 0 1-.071 0l-4.8303-2.7865A4.504 4.504 0 0 1 2.3408 7.872zm16.5963 3.8558L13.1038 8.364 15.1192 7.2a.0757.0757 0 0 1 .071 0l4.8303 2.7913a4.4944 4.4944 0 0 1-.6765 8.1042v-5.6772a.79.79 0 0 0-.407-.667zm2.0107-3.0231l-.142-.0852-4.7735-2.7818a.7759.7759 0 0 0-.7854 0L9.409 9.2297V6.8974a.0662.0662 0 0 1 .0284-.0615l4.8303-2.7866a4.4992 4.4992 0 0 1 6.6802 4.66zM8.3065 12.863l-2.02-1.1638a.0804.0804 0 0 1-.038-.0567V6.0742a4.4992 4.4992 0 0 1 7.3757-3.4537l-.142.0805L8.704 5.459a.7948.7948 0 0 0-.3927.6813zm1.0976-2.3654l2.602-1.4998 2.6069 1.4998v2.9994l-2.5974 1.4997-2.6067-1.4997Z" fill="#fff"/></svg></div>
<div class="ai" style="left:834px;top:523.3px;width:38.7px;height:38.6px;background:#e8806c"><svg viewBox="0 0 38.7 38.6" width="38.7" height="38.6" style="left:0;top:0"><g transform="translate(20.3 20)" stroke="#fff" stroke-width="2.2" stroke-linecap="round" fill="none"><path d="M0 0 L-13.6 -0.4"/><path d="M0 0 L-11.2 -7.2"/><path d="M0 0 L-6.0 -12.4"/><path d="M0 0 L1.6 -12.0"/><path d="M0 0 L8.3 -9.6"/><path d="M0 0 L12.4 -2.0"/><path d="M0 0 L12.4 2.6"/><path d="M0 0 L9.2 8.0"/><path d="M0 0 L6.0 10.3"/><path d="M0 0 L-0.8 12.4"/><path d="M0 0 L-6.8 10.3"/><path d="M0 0 L-10.3 6.8"/><circle r="3.8" fill="#fff" stroke="none"/></g></svg></div>
<div class="ai" style="left:882.9px;top:523.9px;width:37.4px;height:37.7px;background:#000;box-shadow:inset 0 0 0 .8px #2e2a36"><svg viewBox="0 0 37.4 37.7" width="37.4" height="37.7" style="left:0;top:0"><path d="M11.61 24.00 A9.0 9.0 0 0 1 22.92 11.22" fill="none" stroke="#fff" stroke-width="2.9"/><path d="M26.49 13.96 A9.0 9.0 0 0 1 14.11 26.78" fill="none" stroke="#fff" stroke-width="2.9"/><path d="M3.4 32 C8 27.6 13.4 22.2 17.6 18.6 C22 14.4 26.6 10 30.8 6.2 C28 10.2 24.4 14.8 20.4 19.2 C16.2 23.2 9.4 28.4 3.4 32 Z" fill="#fff" stroke="#000" stroke-width="1.3" paint-order="stroke"/></svg></div>
<div class="ai" style="left:931px;top:526.2px;width:34.6px;height:34.7px;background:#fff"><svg viewBox="0 0 34.6 34.7" width="34.6" height="34.7" style="left:0;top:0"><defs><linearGradient id="gg" x1="0" x2="1" y1="0" y2="0"><stop offset="0" stop-color="#8c8fd0"/><stop offset=".45" stop-color="#6f8fd2"/><stop offset=".55" stop-color="#4591d6"/><stop offset="1" stop-color="#3f8fd8"/></linearGradient></defs><rect x="6.2" y="6.6" width="21.9" height="21.9" fill="#f3f8fa"/><path d="M17.5 7.4 Q20.3 15 27.9 17.8 Q20.3 20.6 17.5 28.2 Q14.7 20.6 7.1 17.8 Q14.7 15 17.5 7.4 Z" fill="url(#gg)"/></svg></div>
<div class="ai" style="left:974.5px;top:523.4px;width:38.4px;height:38.5px;background:#1f4a4e;border-radius:6px"><svg viewBox="0 0 38.4 38.5" width="38.4" height="38.5" style="left:0;top:0"><g fill="none" stroke="#22b8cd" stroke-width="1.5" stroke-linejoin="miter"><path d="M19.4 5.5 V33.5"/><path d="M10.6 14.2 V6.2 L19.4 14.2 L28.2 6.2 V14.2"/><path d="M7.6 14.2 H31.2 V26 H28.2 M7.6 14.2 V26 H10.6"/><path d="M19.4 14.2 L10.6 22.6 V32.6 L19.4 24.6 L28.2 32.6 V22.6 Z"/></g></svg></div>
</div>
</div>
<svg class="fr" width="1024" height="570" viewBox="0 0 1024 570"><path fill-rule="evenodd" fill="#29292d" d="M-10 -10 H1034 V580 H-10 Z M6.5 -1.8 H1014.4000000000001 A10 10 0 0 1 1024.4 8.2 V562 A10 10 0 0 1 1014.4000000000001 572 H6.5 A10 10 0 0 1 -3.5 562 V8.2 A10 10 0 0 1 6.5 -1.8 Z"/><rect x="-2.7" y="-1.0" width="1026.3000000000002" height="572.1999999999999" rx="9.2" ry="9.2" fill="none" stroke="#7a3ef0" stroke-width="1.6"/></svg>
</div>
</body></html>
